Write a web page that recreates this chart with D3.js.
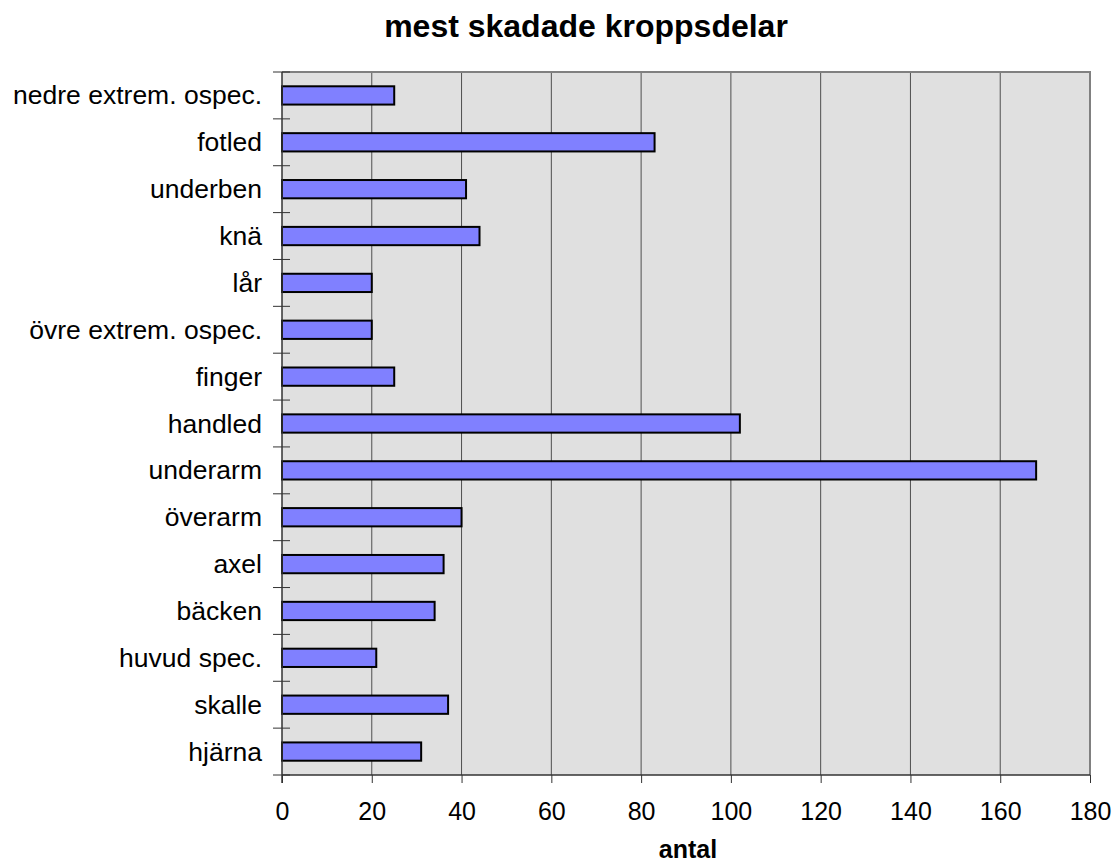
<!DOCTYPE html>
<html>
<head>
<meta charset="utf-8">
<script src="https://cdn.jsdelivr.net/npm/d3@7"></script>
<style>
  body { margin: 0; background: #fff; }
  text { font-family: Arial, "Liberation Sans", sans-serif; fill: #000; }
</style>
</head>
<body>
<div id="chart"></div>
<script>
// Categories, top to bottom as drawn
var categories = ["nedre extrem. ospec.", "fotled", "underben", "knä", "lår",
                  "övre extrem. ospec.", "finger", "handled", "underarm", "överarm",
                  "axel", "bäcken", "huvud spec.", "skalle", "hjärna"];
var values = [25, 83, 41, 44, 20, 20, 25, 102, 168, 40, 36, 34, 21, 37, 31];
var xTicks = [0, 20, 40, 60, 80, 100, 120, 140, 160, 180];

var W = 1114, H = 867;
var plot_left = 282, plot_top = 72, plot_right = 1090, plot_bottom = 775;

var svg = d3.select("#chart").append("svg")
        .attr("width", W)
        .attr("height", H);

var x = d3.scaleLinear().domain([0, 180]).range([plot_left, plot_right]);
var y = d3.scaleBand().domain(categories).range([plot_top, plot_bottom])
        .paddingInner(0.61).paddingOuter(0.305);
var yBand = d3.scaleBand().domain(categories).range([plot_top, plot_bottom]);

// Plot background
svg.append("rect")
        .attr("x", plot_left).attr("y", plot_top)
        .attr("width", plot_right - plot_left)
        .attr("height", plot_bottom - plot_top)
        .attr("fill", "#e0e0e0");

// Vertical grid lines
svg.selectAll("line.grid").data(xTicks.slice(1, -1)).enter().append("line")
        .attr("class", "grid")
        .attr("x1", d => x(d)).attr("x2", d => x(d))
        .attr("y1", plot_top).attr("y2", plot_bottom)
        .attr("stroke", "#000").attr("stroke-width", 1).attr("stroke-opacity", 0.65);

// Plot border (top and right grey)
svg.append("path")
        .attr("d", "M" + plot_left + "," + plot_top + "H" + plot_right + "V" + plot_bottom)
        .attr("fill", "none").attr("stroke", "#808080").attr("stroke-width", 2);

// Bars
svg.selectAll("rect.bar").data(categories).enter().append("rect")
        .attr("class", "bar")
        .attr("x", x(0))
        .attr("y", d => y(d))
        .attr("width", (d, i) => x(values[i]) - x(0))
        .attr("height", y.bandwidth())
        .attr("fill", "#8080ff")
        .attr("stroke", "#000").attr("stroke-width", 2);

// Bottom axis
var xAxis = svg.append("g")
        .attr("transform", "translate(0," + plot_bottom + ")")
        .call(d3.axisBottom(x).tickValues(xTicks).tickSize(8).tickPadding(19));
xAxis.select(".domain").attr("stroke", "#333").attr("stroke-width", 1.5)
        .attr("d", "M" + plot_left + ",0H" + plot_right);
xAxis.selectAll(".tick line").attr("stroke", "#333");
xAxis.selectAll(".tick text")
        .style("font-size", "25px")
        .style("font-family", "Arial, 'Liberation Sans', sans-serif");

// Left axis: ticks at band boundaries
var bounds = categories.map(d => yBand(d)).concat([plot_bottom]);
svg.selectAll("line.ytick").data(bounds).enter().append("line")
        .attr("class", "ytick")
        .attr("x1", plot_left - 9).attr("x2", plot_left + 8)
        .attr("y1", d => d).attr("y2", d => d)
        .attr("stroke", "#333").attr("stroke-width", 1);
svg.append("line")
        .attr("x1", plot_left).attr("x2", plot_left)
        .attr("y1", plot_top).attr("y2", plot_bottom + 8)
        .attr("stroke", "#333").attr("stroke-width", 1.5);

svg.selectAll("text.ylab").data(categories).enter().append("text")
        .attr("class", "ylab")
        .attr("x", plot_left - 20)
        .attr("y", d => yBand(d) + yBand.bandwidth() / 2)
        .attr("dy", "0.34em")
        .attr("text-anchor", "end")
        .style("font-size", "26.5px")
        .text(d => d);

// Titles
svg.append("text")
        .attr("x", 586).attr("y", 37)
        .attr("text-anchor", "middle")
        .style("font-size", "32px").style("font-weight", "bold")
        .text("mest skadade kroppsdelar");

svg.append("text")
        .attr("x", 688).attr("y", 858)
        .attr("text-anchor", "middle")
        .style("font-size", "25px").style("font-weight", "bold")
        .text("antal");
</script>
</body>
</html>
